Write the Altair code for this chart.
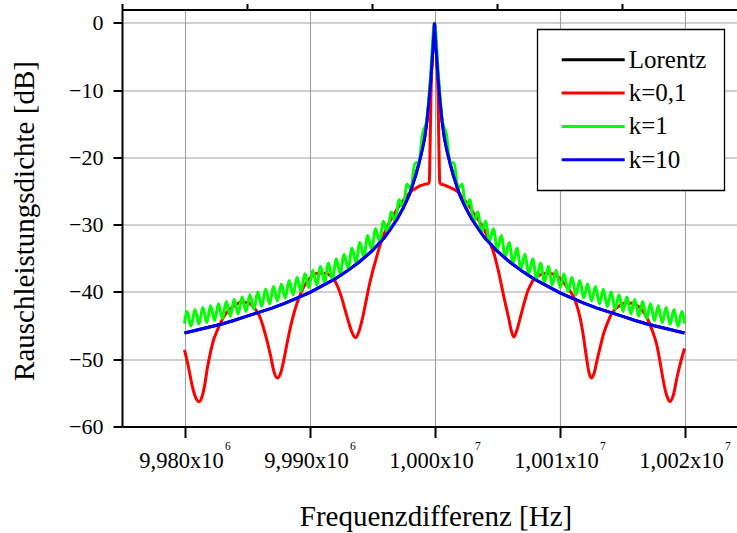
import altair as alt
import pandas as pd

CENTER_HZ = 10_000_000

# ---- series (offsets in Hz from 1.000x10^7, values in dB) ----
lorentz_df = [-20000, -19000, -18000, -17000, -16000, -15000, -14000, -13000, -12000, -11000,
              -10000, -9000, -8000, -7000, -6000, -5000, -4000, -3500, -3000, -2500, -2000,
              -1500, -1250, -1000, -800, -600, -450, -300, -150, 0,
              150, 300, 450, 600, 800, 1000, 1250, 1500, 2000, 2500, 3000, 3500, 4000,
              5000, 6000, 7000, 8000, 9000, 10000, 11000, 12000, 13000, 14000, 15000,
              16000, 17000, 18000, 19000, 20000]
lorentz_db = [-46.1, -45.65, -45.2, -44.75, -44.2, -43.6, -43.0, -42.4, -41.7, -40.9,
              -40.1, -39.1, -38.1, -36.9, -35.5, -33.9, -31.9, -30.6, -29.2, -27.5, -25.5,
              -22.6, -20.9, -19.0, -17.2, -14.5, -11.8, -8.5, -4.5, 0.0,
              -4.5, -8.5, -11.8, -14.5, -17.2, -19.0, -20.9, -22.6, -25.5, -27.5, -29.2, -30.6, -31.9,
              -33.9, -35.5, -36.9, -38.1, -39.1, -40.1, -40.9, -41.7, -42.4, -43.0, -43.6,
              -44.2, -44.75, -45.2, -45.65, -46.1]

k10_df = lorentz_df
k10_db = [-46.1, -45.65, -45.2, -44.75, -44.2, -43.6, -43.0, -42.4, -41.7, -40.9,
          -40.1, -39.1, -38.1, -36.9, -35.5, -33.9, -31.9, -30.6, -29.2, -27.5, -25.5,
          -22.6, -20.9, -19.0, -17.2, -14.5, -11.8, -8.5, -4.5, 0.0,
          -4.5, -8.5, -11.8, -14.5, -17.2, -19.0, -20.9, -22.6, -25.5, -27.5, -29.2, -30.6, -31.9,
          -33.9, -35.5, -36.9, -38.1, -39.1, -40.1, -40.9, -41.7, -42.4, -43.0, -43.6,
          -44.2, -44.75, -45.2, -45.65, -46.1]

k01_df = [-20000, -19700, -19400, -19100, -18850, -18600, -18400, -18187, -17900, -17650,
          -17350, -17120, -16600, -16000, -15400, -14900, -14400, -14000, -13700, -13387,
          -13100, -12850, -12570, -12300, -12053, -11800, -11520, -11250, -10987, -10453,
          -9900, -9300, -8700, -8300, -8053, -7700, -7387, -7100, -6853, -6600,
          -6320, -6050, -5787, -5500, -5253, -5000, -4720, -4400, -4053, -3700,
          -3387, -3000, -2587, -2200, -1920, -1500, -1120, -800, -480, -420,
          -340, -280, -200, -100, 0,
          100, 200, 280, 340, 420, 480, 800, 1280, 1800, 2347,
          2800, 3147, 3550, 3947, 4350, 4747, 5100, 5413, 5700, 5947,
          6150, 6347, 6600, 6880, 7150, 7413, 7700, 7947, 8400, 9000,
          9600, 10100, 10613, 11147, 11500, 11813, 12100, 12350, 12560, 12780,
          13013, 13280, 13547, 13880, 14213, 14700, 15300, 15900, 16400, 16800,
          17013, 17400, 17813, 18100, 18347, 18600, 18830, 19100, 19413, 19700, 20000]
k01_db = [-48.6, -51.0, -53.8, -55.7, -56.3, -55.6, -54.0, -51.5, -48.8, -47.0,
          -45.6, -44.6, -43.0, -42.0, -41.5, -41.6, -42.4, -43.6, -45.2, -47.3,
          -49.6, -51.8, -52.8, -52.0, -50.1, -47.7, -45.2, -43.2, -41.6, -39.2,
          -37.8, -37.2, -37.2, -37.6, -38.1, -39.4, -41.1, -43.0, -44.6, -46.0,
          -46.8, -45.9, -44.1, -41.6, -39.3, -37.3, -35.4, -33.3, -31.5, -30.0,
          -28.9, -27.7, -26.6, -25.7, -25.1, -24.6, -24.2, -24.0, -23.9, -23.6,
          -17.0, -10.5, -6.0, -2.8, 0.0,
          -2.8, -6.0, -10.5, -17.0, -23.6, -23.9, -24.1, -24.5, -25.0, -26.2,
          -27.3, -28.3, -29.4, -30.6, -32.3, -34.2, -36.8, -39.5, -42.0, -44.0,
          -45.8, -46.7, -45.6, -43.7, -41.8, -40.1, -38.9, -38.1, -37.5, -37.2,
          -37.4, -38.1, -39.3, -40.8, -42.7, -45.4, -49.0, -51.9, -52.8, -52.0,
          -50.1, -48.0, -46.1, -44.4, -43.1, -42.2, -41.6, -41.7, -42.3, -43.2,
          -43.9, -45.6, -48.1, -51.0, -53.6, -55.5, -56.3, -55.4, -52.6, -50.4, -48.4]

k1_df = [-20000, -19792, -19478, -19164, -18850, -18535, -18221, -17907, -17593, -17279,
         -16965, -16650, -16336, -16022, -15708, -15394, -15080, -14765, -14451, -14137,
         -13823, -13509, -13195, -12881, -12566, -12252, -11938, -11624, -11310, -10996,
         -10681, -10367, -10053, -9739, -9425, -9111, -8796, -8482, -8168, -7854,
         -7540, -7226, -6912, -6597, -6283, -5969, -5655, -5341, -5027, -4712,
         -4398, -4084, -3770, -3456, -3142, -2827, -2513, -2199, -1885, -1571,
         -1257, -942, -628, -314,
         0, 314, 628, 942, 1257, 1571, 1885, 2199, 2513, 2827,
         3142, 3456, 3770, 4084, 4398, 4712, 5027, 5341, 5655, 5969,
         6283, 6597, 6912, 7226, 7540, 7854, 8168, 8482, 8796, 9111,
         9425, 9739, 10053, 10367, 10681, 10996, 11310, 11624, 11938, 12252,
         12566, 12881, 13195, 13509, 13823, 14137, 14451, 14765, 15080, 15394,
         15708, 16022, 16336, 16650, 16965, 17279, 17593, 17907, 18221, 18535,
         18850, 19164, 19478, 19792, 20000]
k1_db = [-44.7, -42.9, -45.1, -42.6, -44.8, -42.3, -44.55, -42.05, -44.25, -41.75,
         -43.95, -41.4, -43.6, -41.1, -43.25, -40.75, -42.9, -40.4, -42.55, -40.0,
         -42.15, -39.6, -41.75, -39.2, -41.35, -38.8, -40.9, -38.3, -40.4, -37.8,
         -39.9, -37.3, -39.35, -36.75, -38.95, -36.2, -38.55, -35.7, -38.05, -35.1,
         -37.25, -34.4, -36.55, -33.5, -35.65, -32.65, -34.75, -31.6, -33.65, -30.6,
         -32.45, -29.5, -31.15, -28.1, -29.45, -26.3, -27.35, -24.0, -24.6, -20.9,
         -20.7, -16.4, -14.6, -7.8,
         0.0, -7.8, -14.6, -16.4, -20.7, -20.9, -24.6, -24.0, -27.35, -26.3,
         -29.45, -28.1, -31.15, -29.5, -32.45, -30.6, -33.65, -31.6, -34.75, -32.65,
         -35.65, -33.5, -36.55, -34.4, -37.25, -35.1, -38.05, -35.7, -38.55, -36.2,
         -38.95, -36.75, -39.35, -37.3, -39.9, -37.8, -40.4, -38.3, -40.9, -38.8,
         -41.35, -39.2, -41.75, -39.6, -42.15, -40.0, -42.55, -40.4, -42.9, -40.75,
         -43.25, -41.1, -43.6, -41.4, -43.95, -41.75, -44.25, -42.05, -44.55, -42.3,
         -44.8, -42.6, -45.1, -42.9, -44.7]

series_names = ["Lorentz", "k=0,1", "k=1", "k=10"]
series_colors = ["#000000", "#ff0000", "#00ff00", "#0000ff"]

x_major = [9980000, 9990000, 10000000, 10010000, 10020000]
x_minor = [9975000, 9985000, 9995000, 10005000, 10015000]
x_label_main = ["9,980x10", "9,990x10", "1,000x10", "1,001x10", "1,002x10"]
x_label_exp = ["6", "6", "7", "7", "7"]
y_major = [-60, -50, -40, -30, -20, -10, 0]
y_minor = [-55, -45, -35, -25, -15, -5]

FONT = "Liberation Serif"


def frame(offsets, values, name):
    assert len(offsets) == len(values), name
    return pd.DataFrame({"f": [CENTER_HZ + d for d in offsets], "db": values, "series": name})


xscale = alt.Scale(domain=[9975000, 10024200], nice=False, zero=False)
yscale = alt.Scale(domain=[-60, 2], nice=False, zero=False)

legend = alt.Legend(
    title=None, orient="none", direction="vertical", legendX=415.3, legendY=19.8,
    symbolType="M-2.625,0H2.625", symbolSize=576, symbolStrokeWidth=3,
    symbolOffset=25.4, labelOffset=22, rowPadding=6.3, padding=17,
    strokeColor="black", fillColor="white",
    labelFont=FONT, labelFontSize=25, labelColor="black", labelLimit=0,
)
color = alt.Color("series:N", scale=alt.Scale(domain=series_names, range=series_colors), legend=legend)

x_main_axis = alt.Axis(values=x_major, labels=False, tickSize=11, grid=True,
                       title="Frequenzdifferenz [Hz]", titleX=313.5, titleY=98.5,
                       titleAlign="center", titleBaseline="alphabetic",
                       titleFont=FONT, titleFontSize=29, titleFontWeight="normal", titleColor="black")
y_main_axis = alt.Axis(values=y_major, tickSize=9, grid=True, labelPadding=10,
                       labelFont=FONT, labelFontSize=22, labelColor="black",
                       title="Rauschleistungsdichte [dB]", titleX=-88.7, titleY=211,
                       titleAngle=270, titleAlign="center", titleBaseline="alphabetic",
                       titleFont=FONT, titleFontSize=29, titleFontWeight="normal", titleColor="black")
x_minor_axis = alt.Axis(values=x_minor, labels=False, tickSize=6, grid=False, domain=False, title=None)
y_minor_axis = alt.Axis(values=y_minor, labels=False, tickSize=5, grid=False, domain=False, title=None)
x_top_axis = alt.Axis(orient="top", values=x_major, labels=False, ticks=False, grid=False,
                      domain=True, title=None)

lorentz = alt.Chart(frame(lorentz_df, lorentz_db, "Lorentz")).mark_line(strokeWidth=3).encode(
    x=alt.X("f:Q", scale=xscale, axis=x_main_axis),
    y=alt.Y("db:Q", scale=yscale, axis=y_main_axis),
    color=color,
)
k01 = alt.Chart(frame(k01_df, k01_db, "k=0,1")).mark_line(strokeWidth=3, interpolate="monotone").encode(
    x=alt.X("f:Q", scale=xscale, axis=x_minor_axis),
    y=alt.Y("db:Q", scale=yscale, axis=y_minor_axis),
    color=color,
)
k1 = alt.Chart(frame(k1_df, k1_db, "k=1")).mark_line(strokeWidth=3, interpolate="monotone").encode(
    x=alt.X("f:Q", scale=xscale, axis=x_top_axis),
    y=alt.Y("db:Q", scale=yscale, axis=None),
    color=color,
)
k10 = alt.Chart(frame(k10_df, k10_db, "k=10")).mark_line(strokeWidth=3).encode(
    x=alt.X("f:Q", scale=xscale, axis=None),
    y=alt.Y("db:Q", scale=yscale, axis=None),
    color=color,
)

labels_df = pd.DataFrame({"f": x_major, "main": x_label_main, "exp": x_label_exp})
label_main = alt.Chart(labels_df).mark_text(
    font=FONT, fontSize=22.5, align="center", baseline="alphabetic", dx=-3, color="black"
).encode(x=alt.X("f:Q", scale=xscale, axis=None), y=alt.value(458.5), text="main:N")
label_exp = alt.Chart(labels_df).mark_text(
    font=FONT, fontSize=11.5, align="left", baseline="alphabetic", dx=40.5, color="black"
).encode(x=alt.X("f:Q", scale=xscale, axis=None), y=alt.value(440.5), text="exp:N")

chart = (
    alt.layer(lorentz, k01, k1, k10, label_main, label_exp)
    .resolve_axis(x="independent", y="independent")
    .properties(
        width=615, height=417,
        autosize=alt.AutoSizeParams(type="none"),
        padding={"left": 122, "top": 9.5, "right": 0, "bottom": 106.5},
        background="white",
    )
    .configure_view(stroke=None)
    .configure_axis(domainColor="black", domainWidth=2, tickColor="black", tickWidth=2,
                    gridColor="#a0a0a0", gridWidth=1.1)
    .configure_legend(strokeWidth=1.3)
)

chart.save("out.html", embed_options={"renderer": "svg", "actions": False})
